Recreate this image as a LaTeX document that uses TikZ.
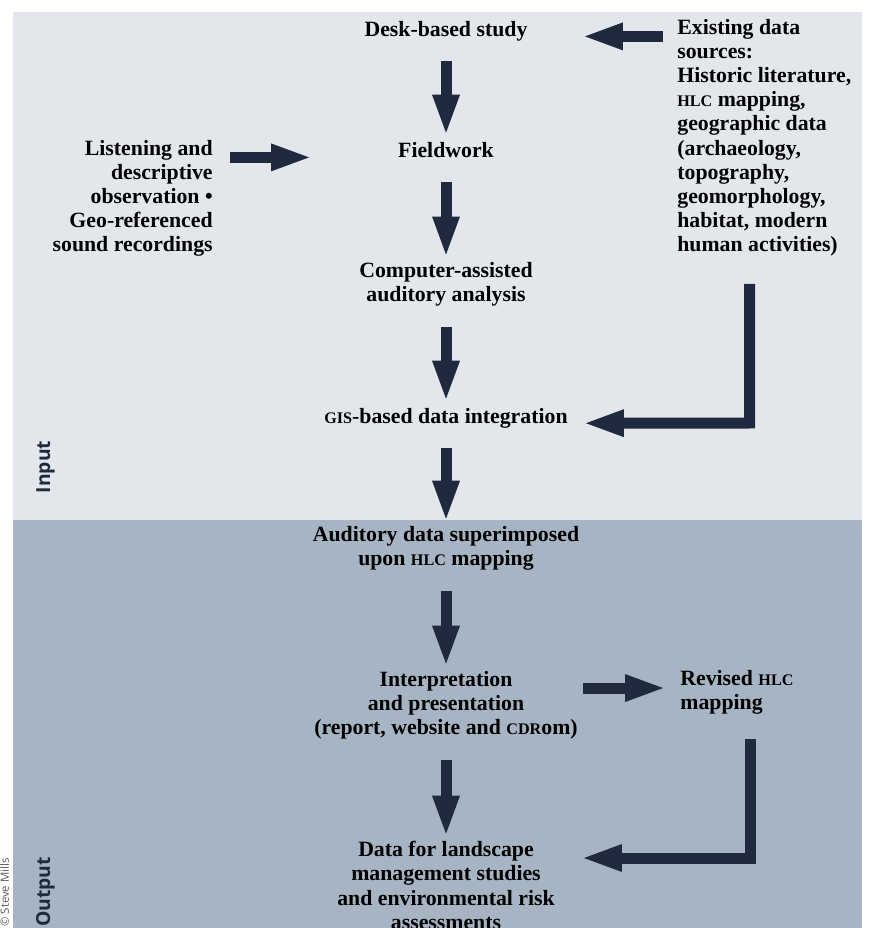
\documentclass[tikz,border=0pt]{standalone}
\usepackage{fontspec}
\setmainfont{Liberation Serif}
\newfontfamily\labelfont{Open Sans}
\usetikzlibrary{arrows.meta}
\definecolor{inputbg}{HTML}{E3E6EB}
\definecolor{outputbg}{HTML}{A6B4C3}
\definecolor{ink}{HTML}{1F2A3F}
\newcommand\smc[1]{{\fontsize{9.2}{13.7}\selectfont #1}}
\tikzset{
  stage/.style={font=\fontsize{12.4}{13.7}\selectfont\bfseries, inner sep=0pt, align=center,
    execute at begin node=\strut, execute at end node=\strut},
  flow/.style={draw=ink, line width=0.22cm,
    -{Triangle[width=0.56cm,length=0.76cm,line width=0pt]},
    shorten <=0.35cm, shorten >=0.15cm},
  band/.style={font=\labelfont\bfseries\fontsize{11}{13}\selectfont, text=ink, rotate=90, anchor=base}
}
\begin{document}
\begin{tikzpicture}[x=0.02cm, y=-0.02cm]
\useasboundingbox (0,0) rectangle (872,928);
\clip (0,0) rectangle (872,928);
\fill[inputbg] (13,12) rectangle (862,520);
\fill[outputbg] (13,520) rectangle (862,928);

\node[band] (inlabel) at (50,467) {Input};
\node[band] (outlabel) at (50,892) {Output};
\node[font=\labelfont\fontsize{6.5}{8}\selectfont, text=black!65, rotate=90, anchor=base east] (credit) at (9,852) {© Steve Mills};

\node[stage, anchor=north] (desk) at (446,19.2) {Desk-based study};
\node[stage, anchor=north] (field) at (446,140.2) {Fieldwork};
\node[stage, anchor=north] (comp) at (446,262) {Computer-assisted\\auditory analysis};
\node[stage, anchor=north] (gis) at (446,406.2) {\smc{GIS}-based data integration};
\node[stage, anchor=north] (aud) at (446,526.2) {Auditory data superimposed\\upon \smc{HLC} mapping};
\node[stage, anchor=north] (interp) at (446,671.2) {Interpretation\\and presentation\\(report, website and \smc{CDR}om)};
\node[stage, anchor=north] (data) at (446,841.2) {Data for landscape\\management studies\\and environmental risk\\assessments};

\node[stage, align=right, anchor=north east] (listen) at (213,140.2) {Listening and\\descriptive\\observation •\\Geo-referenced\\sound recordings};
\node[stage, align=left, anchor=north west] (exist) at (677,19.2) {Existing data\\sources:\\Historic literature,\\\smc{HLC} mapping,\\geographic data\\(archaeology,\\topography,\\geomorphology,\\habitat, modern\\human activities)};
\node[stage, align=left, anchor=north west] (revised) at (680,670.2) {Revised \smc{HLC}\\mapping};

\coordinate (bendin) at (749.5,423);
\coordinate (bendout) at (750,858);

\draw[flow] (desk) -- (field);
\draw[flow] (field) -- (comp);
\draw[flow] (comp) -- (gis);
\draw[flow] (gis) -- (aud);
\draw[flow] (aud) -- (interp);
\draw[flow] (interp) -- (data);

\draw[flow, shorten <=0.28cm, shorten >=2.78cm] (exist.west |- desk.base) -- (desk.base);
\draw[flow, shorten <=0.34cm, shorten >=2.74cm] (listen.east |- field.base) -- (field.base);
\draw[flow, shorten <=0.5cm, shorten >=2.8cm] (exist.south -| bendin) -- (bendin) -- (gis.base);
\draw[flow, shorten <=2.74cm, shorten >=0.34cm] ([yshift=-0.337cm]interp.north) -- ([yshift=-0.337cm]interp.north -| revised.west);
\draw[flow, shorten <=0.44cm, shorten >=2.76cm] (revised.south -| bendout) -- (bendout) -- (bendout -| data.north);
\end{tikzpicture}
\end{document}
